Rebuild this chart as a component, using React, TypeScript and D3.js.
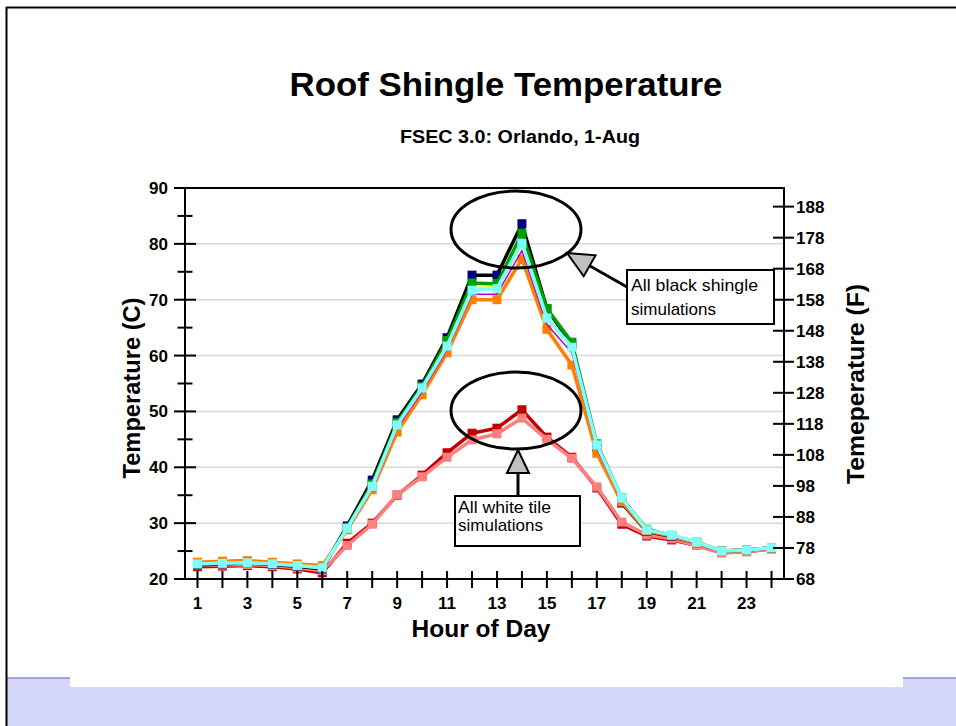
import React from "react";
import * as d3 from "d3";

const hours = d3.range(1, 25);
const xTickLabels = [1, 3, 5, 7, 9, 11, 13, 15, 17, 19, 21, 23];
const cTicks = [20, 30, 40, 50, 60, 70, 80, 90];
const cMinorTicks = [25, 35, 45, 55, 65, 75, 85];
const fTicks = [68, 78, 88, 98, 108, 118, 128, 138, 148, 158, 168, 178, 188];
const gridValues = [30, 40, 50, 60, 70, 80];

// White tile simulations
const darkRed = [22.2, 22.3, 22.4, 22.2, 21.8, 21.1, 26.4, 30.0, 35.0, 38.6, 42.6, 46.1, 47.0, 50.3, 45.4, 41.8, 36.3, 29.8, 27.7, 27.0, 26.0, 24.7, 24.9, 25.4];
const salmon = [22.4, 22.5, 22.6, 22.4, 22.0, 21.5, 26.0, 29.8, 35.1, 38.3, 41.8, 44.9, 46.0, 48.8, 45.0, 41.6, 36.5, 30.2, 27.9, 27.2, 26.0, 24.7, 24.9, 25.4];
// Black shingle simulations
const black = [22.5, 22.7, 22.9, 22.6, 22.3, 21.8, 29.5, 37.7, 48.5, 54.9, 63.2, 74.4, 74.4, 83.6, 68.4, 61.9, 43.5, 33.6, 28.5, 27.6, 26.5, 25.0, 25.2, 25.6];
const green = [22.7, 22.9, 23.0, 22.8, 22.4, 22.0, 29.2, 37.0, 48.0, 54.5, 62.7, 73.0, 72.8, 81.9, 68.4, 62.4, 44.2, 34.5, 28.9, 27.8, 26.6, 25.0, 25.2, 25.6];
const orange = [23.0, 23.2, 23.3, 23.0, 22.7, 22.4, 28.8, 36.0, 46.3, 53.0, 60.5, 70.0, 70.0, 77.3, 64.7, 58.3, 42.5, 33.8, 28.6, 27.7, 26.5, 25.0, 25.2, 25.6];
const magenta = [22.7, 22.8, 22.9, 22.7, 22.4, 22.0, 28.9, 36.3, 47.0, 53.6, 61.1, 71.0, 71.0, 78.8, 65.6, 60.5, 43.3, 34.2, 28.7, 27.8, 26.5, 25.0, 25.2, 25.6];
const yellow = [22.7, 22.8, 22.9, 22.7, 22.4, 22.0, 29.0, 36.8, 47.8, 54.3, 62.0, 72.2, 72.3, 80.6, 67.0, 61.7, 44.0, 34.4, 28.8, 27.9, 26.6, 25.0, 25.2, 25.6];
const cyan = [22.7, 22.8, 22.9, 22.7, 22.4, 22.0, 29.1, 36.6, 47.6, 54.2, 61.7, 71.7, 72.0, 80.1, 66.7, 61.5, 44.0, 34.5, 28.8, 27.9, 26.6, 25.0, 25.2, 25.6];

const series = [
  { name: "darkRed", values: darkRed, line: "#C00000", marker: "#C00000", width: 3.5, markerSize: 9 },
  { name: "salmon", values: salmon, line: "#FF7F7F", marker: "#FF7F7F", width: 3.5, markerSize: 9 },
  { name: "black", values: black, line: "#000000", marker: "#000080", width: 3.5, markerSize: 9 },
  { name: "green", values: green, line: "#00A000", marker: "#00A000", width: 3.5, markerSize: 9 },
  { name: "orange", values: orange, line: "#FF8000", marker: "#FF8000", width: 3.5, markerSize: 9 },
  { name: "yellow", values: yellow, line: "#FFFF00", marker: null, width: 1.5, markerSize: 0 },
  { name: "magenta", values: magenta, line: "#C000C0", marker: null, width: 1.5, markerSize: 0 },
  { name: "cyan", values: cyan, line: "#7FFFFF", marker: "#7FFFFF", width: 3.5, markerSize: 9 },
];

const FONT = "'Liberation Sans', Arial, Helvetica, sans-serif";

function arrowHead(tail: [number, number], tip: [number, number], len: number, half: number) {
  const dx = tip[0] - tail[0];
  const dy = tip[1] - tail[1];
  const L = Math.hypot(dx, dy);
  const ux = dx / L, uy = dy / L;
  const bx = tip[0] - ux * len, by = tip[1] - uy * len;
  const px = -uy, py = ux;
  return {
    points: `${tip[0]},${tip[1]} ${bx + px * half},${by + py * half} ${bx - px * half},${by - py * half}`,
    base: [bx, by] as [number, number],
  };
}

export default function App() {
  const W = 956, H = 726;
  const left = 185, right = 784, top = 188, bottom = 579;

  const x = d3.scaleBand<number>().domain(hours).range([left, right]).paddingInner(0).paddingOuter(0);
  const xc = (h: number) => (x(h) as number) + x.bandwidth() / 2;
  const y = d3.scaleLinear().domain([20, 90]).range([bottom, top]);
  const yF = d3.scaleLinear().domain([68, 194]).range([bottom, top]);

  const line = d3.line<number>().x((_, i) => xc(hours[i])).y((d) => y(d));

  const a1Tail: [number, number] = [627, 287];
  const a1Tip: [number, number] = [567, 253];
  const a1 = arrowHead(a1Tail, a1Tip, 26, 12);
  const a2Tail: [number, number] = [518, 496];
  const a2Tip: [number, number] = [518, 450];
  const a2 = arrowHead(a2Tail, a2Tip, 23, 11);

  return (
    <svg width={W} height={H} style={{ position: "absolute", left: 0, top: 0, background: "#fff" }} fontFamily={FONT}>
      {/* page frame */}
      <rect x={0} y={0} width={W} height={H} fill="#fff" />
      <rect x={6} y={678} width={W - 6} height={H - 678} fill="#D5D8FA" />
      <line x1={6} x2={W} y1={678} y2={678} stroke="#8C8CCC" strokeWidth={1.5} />
      <rect x={70} y={676} width={833} height={11} fill="#fff" />
      <line x1={6} x2={W} y1={7.5} y2={7.5} stroke="#000" strokeWidth={2} />
      <line x1={6.5} x2={6.5} y1={7} y2={H} stroke="#000" strokeWidth={2} />

      {/* titles */}
      <text x={506} y={96} textAnchor="middle" fontSize={34} fontWeight="bold" textLength={433} lengthAdjust="spacingAndGlyphs">Roof Shingle Temperature</text>
      <text x={520} y={143} textAnchor="middle" fontSize={18} fontWeight="bold" textLength={240} lengthAdjust="spacingAndGlyphs">FSEC 3.0: Orlando, 1-Aug</text>

      {/* gridlines */}
      {gridValues.map((v) => (
        <line key={"g" + v} x1={left} x2={right} y1={y(v)} y2={y(v)} stroke="#D9D9D9" strokeWidth={1.5} />
      ))}

      {/* series */}
      {series.map((s) => (
        <g key={s.name}>
          <path d={line(s.values) || ""} fill="none" stroke={s.line} strokeWidth={s.width} strokeLinejoin="miter" />
          {s.marker &&
            s.values.map((v, i) => (
              <rect
                key={i}
                x={xc(hours[i]) - s.markerSize / 2}
                y={y(v) - s.markerSize / 2}
                width={s.markerSize}
                height={s.markerSize}
                fill={s.marker}
              />
            ))}
        </g>
      ))}

      {/* plot frame */}
      <rect x={left} y={top} width={right - left} height={bottom - top} fill="none" stroke="#000" strokeWidth={2} />

      {/* left axis ticks */}
      {cTicks.map((v) => (
        <g key={"c" + v}>
          <line x1={174} x2={196} y1={y(v)} y2={y(v)} stroke="#000" strokeWidth={2} />
          <text x={168} y={y(v) + 6} textAnchor="end" fontSize={17} fontWeight="bold">{v}</text>
        </g>
      ))}
      {cMinorTicks.map((v) => (
        <line key={"cm" + v} x1={177.5} x2={192.5} y1={y(v)} y2={y(v)} stroke="#000" strokeWidth={2} />
      ))}

      {/* right axis ticks */}
      {fTicks.map((v) => (
        <g key={"f" + v}>
          <line x1={773} x2={794} y1={yF(v)} y2={yF(v)} stroke="#000" strokeWidth={2} />
          <text x={796} y={yF(v) + 6} textAnchor="start" fontSize={17} fontWeight="bold">{v}</text>
        </g>
      ))}

      {/* bottom axis ticks */}
      {hours.map((h) => (
        <line key={"x" + h} x1={xc(h)} x2={xc(h)} y1={571} y2={588} stroke="#000" strokeWidth={2} />
      ))}
      {xTickLabels.map((h) => (
        <text key={"xl" + h} x={xc(h)} y={609} textAnchor="middle" fontSize={17} fontWeight="bold">{h}</text>
      ))}

      {/* axis titles */}
      <text x={481} y={637} textAnchor="middle" fontSize={24} fontWeight="bold" textLength={139} lengthAdjust="spacingAndGlyphs">Hour of Day</text>
      <text transform={`translate(140,388) rotate(-90)`} textAnchor="middle" fontSize={24} fontWeight="bold" textLength={181} lengthAdjust="spacingAndGlyphs">Temperature (C)</text>
      <text transform={`translate(864,384) rotate(-90)`} textAnchor="middle" fontSize={24} fontWeight="bold" textLength={200} lengthAdjust="spacingAndGlyphs">Temeperature (F)</text>

      {/* annotations */}
      <ellipse cx={516} cy={229.5} rx={65} ry={38.5} fill="none" stroke="#000" strokeWidth={3} />
      <ellipse cx={516} cy={410.5} rx={65} ry={38.5} fill="none" stroke="#000" strokeWidth={3} />

      <line x1={a1Tail[0]} y1={a1Tail[1]} x2={a1.base[0]} y2={a1.base[1]} stroke="#000" strokeWidth={3} />
      <polygon points={a1.points} fill="#C0C0C0" stroke="#000" strokeWidth={2} strokeLinejoin="miter" />
      <rect x={627} y={270} width={147} height={54} fill="#fff" stroke="#000" strokeWidth={2} />
      <text x={631} y={291} fontSize={17} textLength={127} lengthAdjust="spacingAndGlyphs">All black shingle</text>
      <text x={631} y={315} fontSize={17}>simulations</text>

      <line x1={a2Tail[0]} y1={a2Tail[1]} x2={a2.base[0]} y2={a2.base[1]} stroke="#000" strokeWidth={3} />
      <polygon points={a2.points} fill="#C0C0C0" stroke="#000" strokeWidth={2} strokeLinejoin="miter" />
      <rect x={455} y={496} width={125} height={50} fill="#fff" stroke="#000" strokeWidth={2} />
      <text x={458} y={513} fontSize={17} textLength={93} lengthAdjust="spacingAndGlyphs">All white tile</text>
      <text x={458} y={531} fontSize={17}>simulations</text>
    </svg>
  );
}
